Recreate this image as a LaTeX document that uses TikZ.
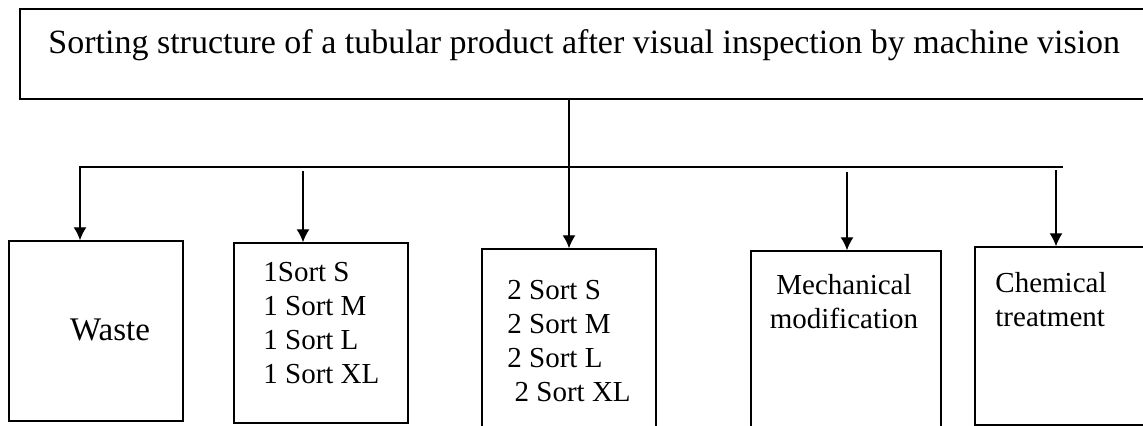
\documentclass[tikz,border=0pt]{standalone}
\usepackage{fontspec}
\setmainfont{Liberation Serif}
\usetikzlibrary{arrows.meta,fit}

\begin{document}
\begin{tikzpicture}[x=0.5pt,y=-0.5pt,
  box/.style={draw, line width=0.7pt, inner sep=0pt},
  lbl/.style={inner sep=0pt, font=\fontsize{14.5}{17}\selectfont},
  arr/.style={line width=0.7pt, -{Latex[length=6.5pt,width=6.5pt]}}]
%\draw[step=50,gray,very thin] (0,0) grid (1143,426);
\useasboundingbox (0,0) rectangle (1143,426);
\clip (0,0) rectangle (1143,426);

\node[box, fit={(20,9) (1160,99)}] (title) {};
\node[lbl, anchor=base west, font=\fontsize{17}{20}\selectfont] at (48,54) {Sorting structure of a tubular product after visual inspection by machine vision};

\node[box, fit={(9,241) (183,421)}] (waste) {};
\node[box, fit={(234,243) (408,423)}] (sortone) {};
\node[box, fit={(482,249) (656,440)}] (sorttwo) {};
\node[box, fit={(751,251) (941,440)}] (mech) {};
\node[box, fit={(975,247) (1160,425)}] (chem) {};

\node[lbl, font=\fontsize{16.5}{19}\selectfont] at (110,330) {Waste};
\node[lbl, anchor=west, align=left] at (263,323) {1Sort S\\ 1 Sort M\\ 1 Sort L\\ 1 Sort XL};
\node[lbl, anchor=west, align=left] at (507,341) {2 Sort S\\ 2 Sort M\\ 2 Sort L\\ \hspace*{0.25em}2 Sort XL};
\node[lbl, align=center] at (844,302) {Mechanical\\ modification};
\node[lbl, anchor=west, align=left] at (995,300) {Chemical\\ treatment};

\coordinate (hl) at (80,167);
\coordinate (hr) at (1063,167);
\coordinate (a1) at (303,171);
\coordinate (a2) at (847,172);
\coordinate (a3) at (1056,170);

\draw[arr] (sorttwo.north |- title.south) -- (sorttwo.north);
\draw[arr] (hr) -- (hl) -- (hl |- waste.north);
\draw[arr] (a1) -- (a1 |- sortone.north);
\draw[arr] (a2) -- (a2 |- mech.north);
\draw[arr] (a3) -- (a3 |- chem.north);

\end{tikzpicture}
\end{document}
